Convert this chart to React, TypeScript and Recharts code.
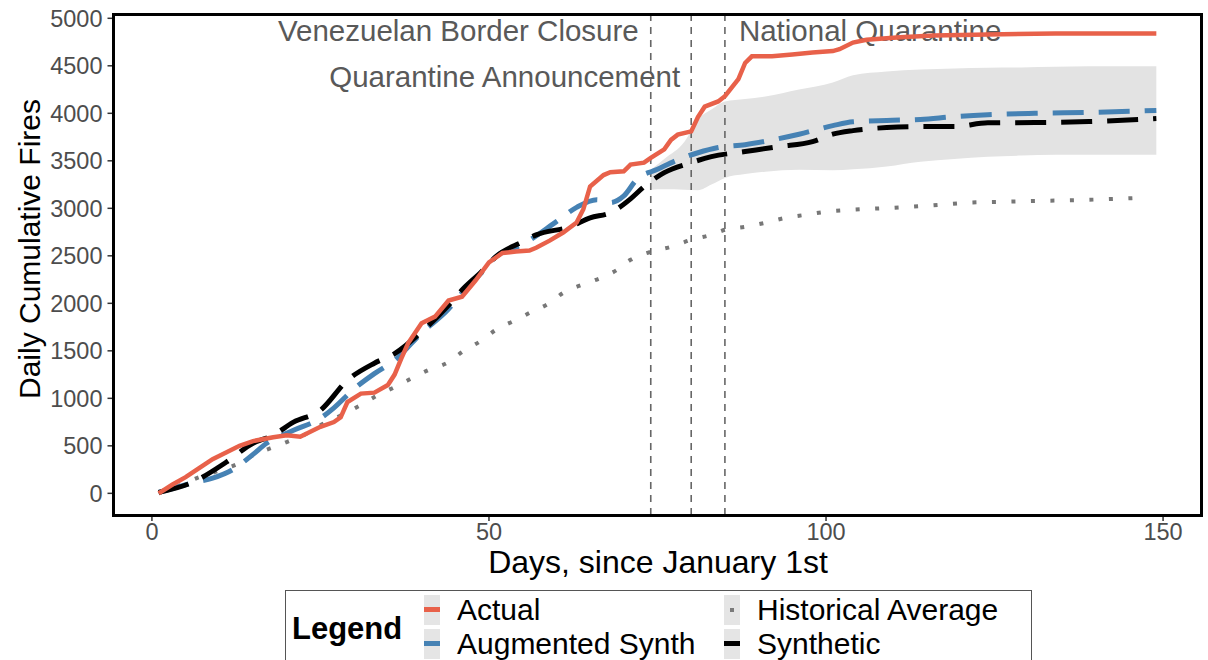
import { Area, ComposedChart, Line, ReferenceLine, XAxis, YAxis } from "recharts";

const actualDays = [1, 3, 5, 7, 9, 11, 13, 15, 18, 20, 22, 25, 27, 28, 29, 31, 33, 35, 36, 37, 38, 40, 42, 44, 46, 48, 50, 52, 54, 56, 57, 59, 61, 63, 64, 65, 67, 68, 70, 71, 73, 74, 76, 77, 78, 80, 81, 82, 84, 85, 87, 88, 89, 92, 95, 98, 101, 102, 104, 106, 111, 116, 124, 134, 149];
const actualValues = [0, 90, 170, 265, 360, 430, 500, 550, 590, 610, 595, 700, 750, 800, 960, 1050, 1060, 1140, 1250, 1420, 1580, 1790, 1860, 2030, 2070, 2240, 2430, 2530, 2545, 2555, 2585, 2660, 2745, 2850, 2990, 3230, 3350, 3380, 3390, 3460, 3480, 3530, 3620, 3720, 3775, 3810, 3960, 4070, 4125, 4180, 4360, 4530, 4600, 4600, 4620, 4640, 4655, 4675, 4745, 4775, 4800, 4820, 4830, 4840, 4840];

const augDays = [1, 4, 6, 9, 12, 15, 17, 21, 25, 27, 30, 33, 36, 40, 44, 46, 49, 51, 55, 60, 63, 66, 68, 70, 72, 75, 78, 81, 84, 88, 92, 96, 101, 104, 109, 114, 119, 124, 131, 139, 149];
const augValues = [10, 70, 110, 160, 250, 410, 527, 664, 790, 900, 1100, 1260, 1400, 1690, 1940, 2110, 2330, 2490, 2620, 2860, 3010, 3090, 3060, 3130, 3310, 3410, 3510, 3585, 3640, 3670, 3720, 3780, 3870, 3910, 3925, 3935, 3965, 3985, 4000, 4010, 4030];

const synthDays = [1, 6, 11, 15, 18, 21, 25, 29, 33, 36, 40, 44, 46, 49, 51, 55, 57, 62, 65, 68, 71, 73, 76, 80, 83, 88, 93, 98, 101, 104, 109, 114, 119, 124, 131, 139, 149];
const synthValues = [10, 116, 327, 527, 612, 749, 875, 1190, 1370, 1470, 1700, 1980, 2140, 2340, 2490, 2648, 2720, 2806, 2900, 2953, 3100, 3228, 3375, 3481, 3544, 3597, 3650, 3702, 3780, 3818, 3850, 3860, 3860, 3900, 3903, 3913, 3945];

const histDays = [1, 4, 7, 10, 13, 15, 18, 20, 23, 25, 28, 31, 33, 36, 41, 44, 46, 49, 51, 54, 56, 59, 61, 64, 67, 69, 71, 74, 77, 80, 83, 85, 88, 91, 94, 97, 100, 104, 110, 115, 121, 127, 133, 139, 147];
const histValues = [0, 80, 170, 240, 320, 400, 485, 540, 630, 717, 820, 930, 1013, 1118, 1297, 1382, 1487, 1614, 1720, 1825, 1899, 2004, 2110, 2200, 2280, 2352, 2458, 2542, 2595, 2669, 2722, 2774, 2806, 2848, 2900, 2932, 2964, 2985, 3006, 3027, 3059, 3070, 3080, 3090, 3112];

const bandDays = [74, 76, 79, 81, 83, 85, 88, 91, 96, 101, 104, 109, 114, 119, 124, 129, 134, 139, 149];
const bandLow = [3196, 3200, 3196, 3190, 3250, 3320, 3360, 3386, 3407, 3400, 3410, 3440, 3490, 3520, 3544, 3555, 3565, 3565, 3565];
const bandHigh = [3407, 3520, 3700, 3935, 4040, 4125, 4150, 4177, 4250, 4325, 4400, 4441, 4460, 4472, 4480, 4483, 4490, 4494, 4494];

const eventDays = [74, 80, 85];
const eventLabels = ["Venezuelan Border Closure", "Quarantine Announcement", "National Quarantine"];

const xTicks = [0, 50, 100, 150];
const yTicks = [0, 500, 1000, 1500, 2000, 2500, 3000, 3500, 4000, 4500, 5000];

const FONT = '"Liberation Sans", Arial, Helvetica, sans-serif';

const pairs = (days: number[], values: number[]) => days.map((day, i) => ({ day, value: values[i] }));

const actualData = pairs(actualDays, actualValues);
const augData = pairs(augDays, augValues);
const synthData = pairs(synthDays, synthValues);
const histData = pairs(histDays, histValues);
const bandData = bandDays.map((day, i) => ({ day, range: [bandLow[i], bandHigh[i]] }));

// where each event label sits relative to its line
const labelPlacement = [
  { dx: -12, y: 41, anchor: "end" },
  { dx: -11, y: 87, anchor: "end" },
  { dx: 14, y: 41, anchor: "start" },
];

function eventLabel(i: number) {
  return (props: any) => {
    const vb = props.viewBox || {};
    const p = labelPlacement[i];
    return (
      <text
        x={(vb.x ?? 0) + p.dx}
        y={p.y}
        textAnchor={p.anchor}
        fill="#595959"
        fontSize={29.5}
        fontFamily={FONT}
      >
        {eventLabels[i]}
      </text>
    );
  };
}

const legendItems = [
  { label: "Actual", color: "#E8614A", kind: "line", left: 424, top: 595 },
  { label: "Augmented Synth", color: "#4682B4", kind: "line", left: 424, top: 629 },
  { label: "Historical Average", color: "#7a7a7a", kind: "dot", left: 724, top: 595 },
  { label: "Synthetic", color: "#000000", kind: "line", left: 724, top: 629 },
];

export default function App() {
  return (
    <div
      style={{
        position: "fixed",
        left: 0,
        top: 0,
        width: 1208,
        height: 660,
        overflow: "hidden",
        background: "#fff",
        fontFamily: FONT,
      }}
    >
      <ComposedChart
        width={1208}
        height={580}
        margin={{ top: 14.5, right: 6.5, bottom: 35, left: 53.5 }}
      >
        <XAxis
          type="number"
          dataKey="day"
          domain={[-5.7, 155.7]}
          ticks={xTicks}
          allowDataOverflow
          height={30}
          axisLine={false}
          tickSize={6}
          tickLine={{ stroke: "#333", strokeWidth: 1.5 }}
          tick={{ fill: "#4d4d4d", fontSize: 23.5, fontFamily: FONT }}
        />
        <YAxis
          type="number"
          domain={[-228, 5040]}
          ticks={yTicks}
          allowDataOverflow
          width={60}
          axisLine={false}
          tickSize={6}
          tickMargin={5}
          tickLine={{ stroke: "#333", strokeWidth: 1.5 }}
          tick={{ fill: "#4d4d4d", fontSize: 23.5, fontFamily: FONT }}
        />
        {eventDays.map((d, i) => (
          <ReferenceLine
            key={d}
            x={d}
            stroke="#666"
            strokeWidth={1.6}
            strokeDasharray="7 6"
            label={eventLabel(i)}
          />
        ))}
        <Area
          data={bandData}
          dataKey="range"
          type="monotone"
          fill="#e3e3e3"
          fillOpacity={1}
          stroke="none"
          isAnimationActive={false}
        />
        <Line
          data={histData}
          dataKey="value"
          type="monotone"
          stroke="#777"
          strokeWidth={4}
          strokeDasharray="4 15.5"
          dot={false}
          isAnimationActive={false}
        />
        <Line
          data={augData}
          dataKey="value"
          type="monotone"
          stroke="#4682B4"
          strokeWidth={5}
          strokeDasharray="31 15"
          dot={false}
          isAnimationActive={false}
        />
        <Line
          data={synthData}
          dataKey="value"
          type="monotone"
          stroke="#000"
          strokeWidth={5}
          strokeDasharray="31 15"
          dot={false}
          isAnimationActive={false}
        />
        <Line
          data={actualData}
          dataKey="value"
          type="linear"
          stroke="#E8614A"
          strokeWidth={4.5}
          dot={false}
          isAnimationActive={false}
        />
      </ComposedChart>

      {/* panel border */}
      <div
        style={{
          position: "absolute",
          left: 112,
          top: 13,
          width: 1091,
          height: 504,
          boxSizing: "border-box",
          border: "3px solid #000",
          pointerEvents: "none",
        }}
      />

      <div
        style={{
          position: "absolute",
          left: 30,
          top: 249,
          transform: "translate(-50%, -50%) rotate(-90deg)",
          whiteSpace: "nowrap",
          fontSize: 30,
          lineHeight: 1,
          color: "#000",
        }}
      >
        Daily Cumulative Fires
      </div>
      <div
        style={{
          position: "absolute",
          left: 658,
          top: 562,
          transform: "translate(-50%, -50%)",
          whiteSpace: "nowrap",
          fontSize: 32,
          lineHeight: 1,
          color: "#000",
        }}
      >
        Days, since January 1st
      </div>

      {/* legend */}
      <div
        style={{
          position: "absolute",
          left: 285,
          top: 590,
          width: 747,
          height: 100,
          boxSizing: "border-box",
          border: "1.5px solid #555",
        }}
      />
      <div
        style={{
          position: "absolute",
          left: 292,
          top: 628,
          transform: "translateY(-50%)",
          fontSize: 31,
          lineHeight: 1,
          fontWeight: "bold",
          color: "#000",
        }}
      >
        Legend
      </div>
      {legendItems.map((it) => (
        <div key={it.label}>
          <div
            style={{
              position: "absolute",
              left: it.left,
              top: it.top,
              width: 16,
              height: 30,
              background: "#e5e5e5",
            }}
          >
            {it.kind === "line" ? (
              <div
                style={{
                  position: "absolute",
                  left: 0,
                  top: 12,
                  width: 16,
                  height: 5,
                  background: it.color,
                }}
              />
            ) : (
              <div
                style={{
                  position: "absolute",
                  left: 6,
                  top: 13,
                  width: 4,
                  height: 4,
                  background: it.color,
                }}
              />
            )}
          </div>
          <div
            style={{
              position: "absolute",
              left: it.left + 33,
              top: it.top + 15,
              transform: "translateY(-50%)",
              whiteSpace: "nowrap",
              fontSize: 30,
              lineHeight: "30px",
              color: "#000",
            }}
          >
            {it.label}
          </div>
        </div>
      ))}
    </div>
  );
}
